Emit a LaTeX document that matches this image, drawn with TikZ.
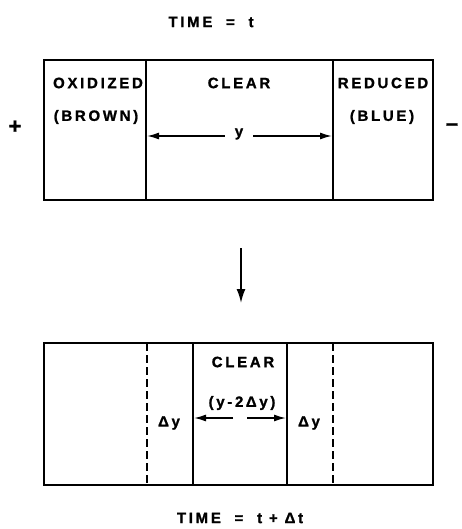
\documentclass[tikz,border=0pt]{standalone}
\usepackage{fontspec}
\setmainfont{Liberation Sans}[LetterSpace=18,BoldFeatures={FakeBold=1.2}]
\usetikzlibrary{arrows.meta}
\begin{document}
\begin{tikzpicture}[x=1pt,y=-1pt,
  wall/.style={line width=2pt},
  dwall/.style={line width=1.7pt,dash pattern=on 8pt off 4pt},
  lab/.style={font=\fontsize{15}{17}\selectfont\bfseries,inner sep=0pt},
  dim/.style={line width=1.5pt,-{Latex[length=12pt,width=7pt]}},
  sign/.style={font=\fontsize{22}{24}\selectfont\bfseries,inner sep=0pt}]
\useasboundingbox (0,0) rectangle (461,529);
% top state
\node[lab] (t1) at (211,22) {TIME \ = \ t};
\draw[wall] (44,60) rectangle (433,200);
\coordinate (a1) at (146,60); \coordinate (a2) at (146,200);
\coordinate (b1) at (333,60); \coordinate (b2) at (333,200);
\draw[wall] (a1) -- (a2);
\draw[wall] (b1) -- (b2);
\node[lab] (ox) at (98,83) {OXIDIZED};
\node[lab] (br) at (96,117) {(BROWN)};
\node[lab] (cl1) at (239,83) {CLEAR};
\node[lab] (re) at (383,83) {REDUCED};
\node[lab] (bl) at (382,117) {(BLUE)};
\node[lab,inner xsep=10pt] (y1) at (239,134) {y};
\coordinate (ya) at (147,136); \coordinate (yb) at (332,136);
\draw[dim] (y1.west |- ya) -- (ya);
\draw[dim] (y1.east |- yb) -- (yb);
\node[sign] (plus) at (15,127) {+};
\node[sign] (minus) at (452,127) {–};
% transition arrow
\coordinate (d1) at (241,248); \coordinate (d2) at (241,303);
\draw[line width=1.7pt,-{Latex[length=14pt,width=9pt]}] (d1) -- (d2);
% bottom state
\draw[wall] (44,343) rectangle (433,485);
\coordinate (c1) at (147,343); \coordinate (c2) at (147,485);
\coordinate (e1) at (333,343); \coordinate (e2) at (333,485);
\coordinate (f1) at (193,343); \coordinate (f2) at (193,485);
\coordinate (g1) at (287,343); \coordinate (g2) at (287,485);
\draw[dwall] (c1) -- (c2);
\draw[dwall] (e1) -- (e2);
\draw[wall] (f1) -- (f2);
\draw[wall] (g1) -- (g2);
\node[lab] (cl2) at (243,362) {CLEAR};
\node[lab] (ym) at (242,403) {(y-2\,Δy)};
\coordinate (ma) at (233,418); \coordinate (mb) at (247,418);
\coordinate (fa) at (194,418); \coordinate (gb) at (286,418);
\draw[dim] (ma) -- (fa);
\draw[dim] (mb) -- (gb);
\node[lab] (dy1) at (169,423) {Δy};
\node[lab] (dy2) at (309,423) {Δy};
\node[lab] (t2) at (240,518) {TIME \ = \ t + Δt};
\end{tikzpicture}
\end{document}
